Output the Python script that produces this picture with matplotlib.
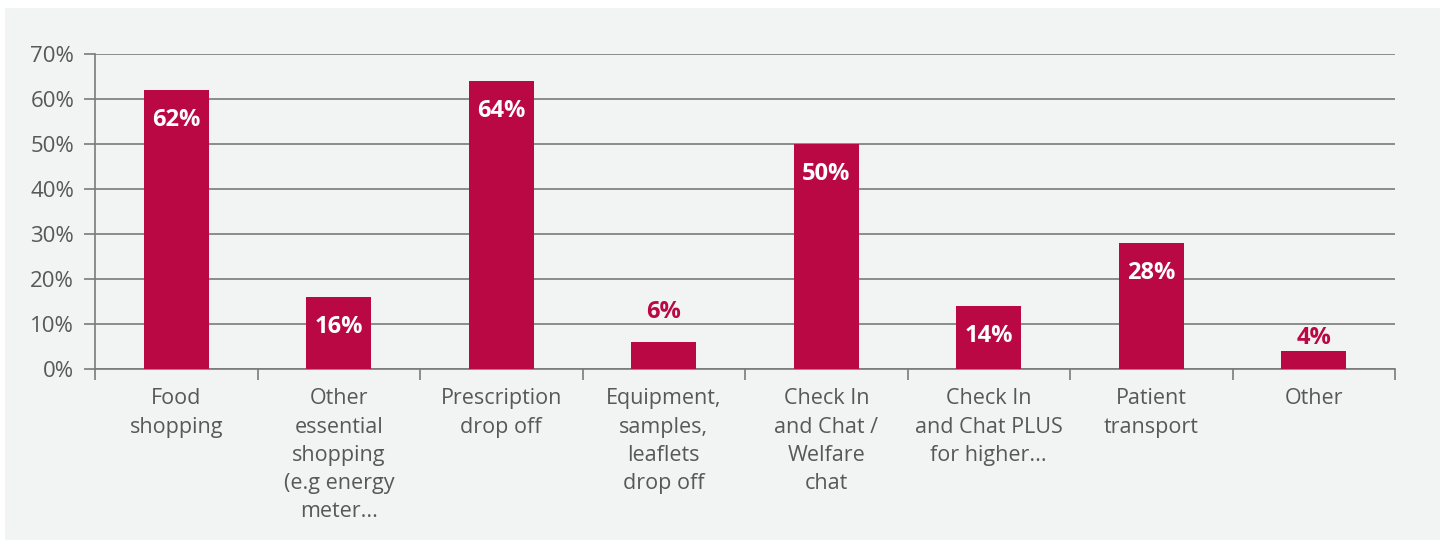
import matplotlib
matplotlib.use('Agg')
import matplotlib.pyplot as plt
from matplotlib.patches import Rectangle
import numpy as np

# Survey results: share of requests by type of support
categories = [
    'Food\nshopping',
    'Other\nessential\nshopping\n(e.g energy\nmeter...',
    'Prescription\ndrop off',
    'Equipment,\nsamples,\nleaflets\ndrop off',
    'Check In\nand Chat /\nWelfare\nchat',
    'Check In\nand Chat PLUS\nfor higher...',
    'Patient\ntransport',
    'Other',
]
values = [62, 16, 64, 6, 50, 14, 28, 4]

bar_color = '#b90843'
text_color = '#585858'
grid_color = '#7a7a7a'
bg_color = '#f1f4f3'

plt.rcParams['font.family'] = ['Open Sans', 'DejaVu Sans']

fig = plt.figure(figsize=(14.5, 5.44), dpi=100)
fig.patch.set_facecolor('white')
# light panel behind the chart
fig.patches.append(Rectangle((5 / 1450, 4 / 544), 1435 / 1450, 532 / 544,
                             transform=fig.transFigure, facecolor=bg_color,
                             edgecolor='none', zorder=-5))

ax = fig.add_axes([95 / 1450, (544 - 369) / 544, 1300 / 1450, 315 / 544])
ax.set_facecolor('none')
ax.set_zorder(2)

x = np.arange(len(categories))
ax.bar(x, values, width=0.4, color=bar_color, zorder=3)

ax.set_xlim(-0.5, len(categories) - 0.5)
ax.set_ylim(0, 70)
ax.set_yticks(np.arange(0, 71, 10))
ax.set_yticklabels([f'{v}%' for v in range(0, 71, 10)])
ax.yaxis.grid(True, color=grid_color, linewidth=1.2, zorder=1)
ax.set_axisbelow(True)

# category labels sit between boundary ticks
ax.set_xticks(x)
ax.set_xticklabels(categories, fontsize=15.5, color=text_color, linespacing=1.45, va='top')
ax.tick_params(axis='x', length=0, pad=14)
ax.set_xticks(np.arange(-0.5, len(categories), 1), minor=True)
ax.tick_params(axis='x', which='minor', length=8, width=1.2, color=grid_color)
ax.tick_params(axis='y', length=8, width=1.2, color=grid_color, labelsize=16,
               labelcolor=text_color, pad=7)

for side in ['top', 'right']:
    ax.spines[side].set_visible(False)
for side in ['left', 'bottom']:
    ax.spines[side].set_color(grid_color)
    ax.spines[side].set_linewidth(1.2)

# value labels: inside the bar when there is room, otherwise above it
for xi, v in zip(x, values):
    if v >= 10:
        ax.text(xi, v - 6.6, f'{v}%', ha='center', va='center', color='white',
                fontsize=17, fontweight='bold', zorder=4)
    else:
        ax.text(xi, v + 2.9 + 1.9 * (v - 4), f'{v}%', ha='center', va='center',
                color=bar_color, fontsize=17, fontweight='bold', zorder=4)

fig.savefig('out.png', dpi=100)
